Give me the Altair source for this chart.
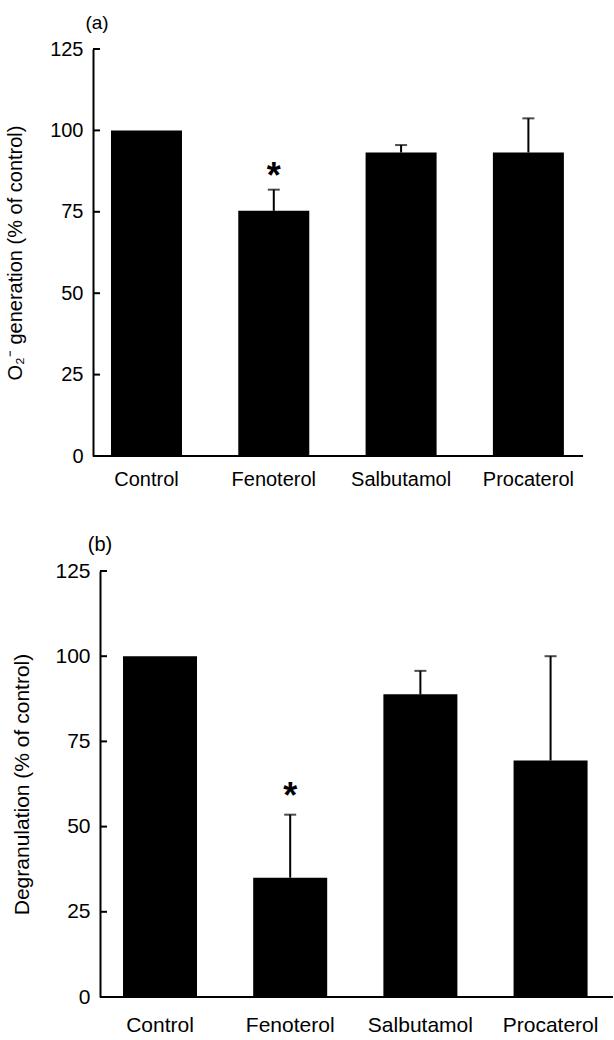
import altair as alt
import pandas as pd

drugs = ["Control", "Fenoterol", "Salbutamol", "Procaterol"]

# panel (a): O2- generation
a_mean = [100, 75.3, 93.2, 93.2]
a_top = [100, 81.8, 95.5, 103.7]
a_star = [None, 88, None, None]

# panel (b): degranulation
b_mean = [100, 35, 88.8, 69.4]
b_top = [100, 53.5, 95.7, 100]
b_star = [None, 61, None, None]

y_ticks = [0, 25, 50, 75, 100, 125]

FONT = "Liberation Sans"


def panel(mean, top, star, tag, ytitle, width, height, axis_offset, pad_inner,
          pad_outer, align, fsize, lab_pad, tag_x, tag_y, star_dy, title_x):
    df = pd.DataFrame({"drug": drugs, "mean": mean, "top": top, "star": star})
    xs = alt.X("drug:N", sort=drugs, title=None,
               scale=alt.Scale(paddingInner=pad_inner, paddingOuter=pad_outer, align=align),
               axis=alt.Axis(labelAngle=0, labelFontSize=fsize, labelFont=FONT,
                             labelColor="black", labelPadding=lab_pad, ticks=False,
                             tickSize=0, domain=False, labelBaseline="top"))
    ys = alt.Y("mean:Q", title=ytitle,
               scale=alt.Scale(domain=[0, 125], nice=False, zero=True),
               axis=alt.Axis(values=y_ticks, grid=False, ticks=False, tickSize=0,
                             labelFontSize=fsize, labelFont=FONT, labelColor="black",
                             labelPadding=10, domainColor="black", domainWidth=2,
                             offset=axis_offset, titleFontSize=fsize, titleFont=FONT,
                             titleFontWeight="normal", titleColor="black",
                             titleX=title_x, titleBaseline="middle"))
    base = alt.Chart(df)
    bars = base.mark_bar(color="black").encode(x=xs, y=ys)
    err = base.transform_filter("datum.top > datum.mean").mark_rule(
        color="black", strokeWidth=2).encode(x=alt.X("drug:N", sort=drugs), y="mean:Q", y2="top:Q")
    cap = base.transform_filter("datum.top > datum.mean").mark_tick(
        color="black", size=12, thickness=2).encode(x=alt.X("drug:N", sort=drugs), y="top:Q")
    st = base.transform_filter("datum.star != null").mark_text(
        text="*", font=FONT, fontSize=36, fontWeight="bold", color="black", dy=star_dy
    ).encode(x=alt.X("drug:N", sort=drugs), y="star:Q")
    tdf = pd.DataFrame({"v": y_ticks})
    ticks = alt.Chart(tdf).mark_rule(color="black", strokeWidth=2).encode(
        x=alt.value(-axis_offset), x2=alt.value(-axis_offset + 7), y="v:Q")
    base_line = alt.Chart(pd.DataFrame({"v": [0]})).mark_rule(color="black", strokeWidth=2).encode(
        x=alt.value(-axis_offset), x2=alt.value(width), y="v:Q")
    lab = alt.Chart(pd.DataFrame({"t": [tag]})).mark_text(
        font=FONT, fontSize=fsize - 1, color="black", baseline="middle", align="center"
    ).encode(text="t:N", x=alt.value(tag_x), y=alt.value(tag_y))
    return alt.layer(bars, err, cap, st, base_line, ticks, lab).properties(
        width=width, height=height)


pa = panel(a_mean, a_top, a_star, "(a)", "O₂⁻ generation (% of control)",
           483, 407, 7, 0.4423, 0.1182, 0.365, 20, 13, -3, -26, 8, -78)
pb = panel(b_mean, b_top, b_star, "(b)", "Degranulation (% of control)",
           513, 426, 0, 0.4316, 0.186, 0.475, 21, 17, 0, -26, 8, -78)

chart = alt.vconcat(pa, pb, spacing=46).properties(
    padding={"left": 5, "top": 14, "right": 0, "bottom": 0},
    background="white"
).configure_view(stroke=None, strokeWidth=0)

chart.save("out.html", embed_options={"renderer": "svg", "actions": False})
